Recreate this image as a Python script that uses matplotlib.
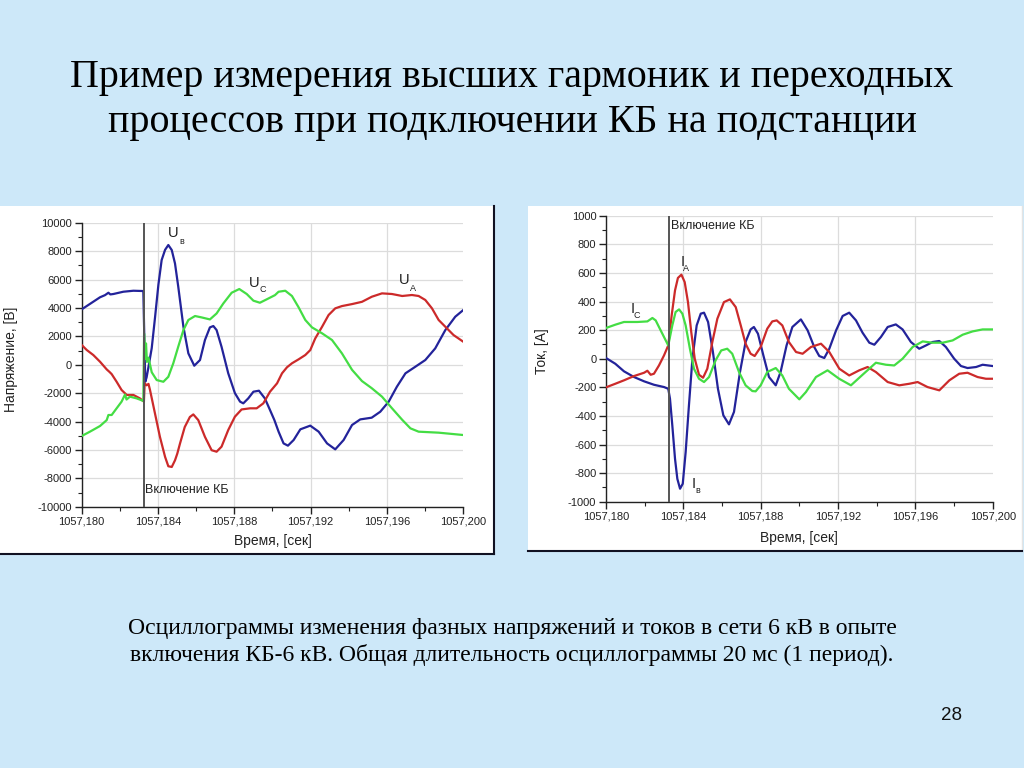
import matplotlib
matplotlib.use("Agg")
import matplotlib.pyplot as plt
from matplotlib.patches import Rectangle
from matplotlib.lines import Line2D
from matplotlib.ticker import MultipleLocator, FuncFormatter
import numpy as np

# ---------------- data (time in ms after 1057,180 s) ----------------
T0 = 1057.180
SWITCH_MS = 3.25

# Voltage, phase B (blue)
ub_t = [0, 0.26, 0.61, 0.96, 1.22, 1.4, 1.5, 1.66, 2.18, 2.71, 3.23, 3.28, 3.33, 3.4, 3.49, 3.67, 3.84,
        4.02, 4.19, 4.37, 4.54, 4.72, 4.89, 5.06, 5.33, 5.59, 5.9, 6.2, 6.46, 6.72, 6.9, 7.07, 7.33,
        7.68, 8.03, 8.3, 8.47, 8.73, 9.0, 9.29, 9.6, 9.87, 10.1, 10.32, 10.58, 10.81, 11.11, 11.46,
        11.98, 12.42, 12.86, 13.29, 13.73, 14.17, 14.6, 15.2, 15.65, 16.09, 16.52, 16.97, 17.49,
        18.01, 18.53, 19.06, 19.58, 20.0]
ub_v = [3900, 4130, 4440, 4750, 4900, 5070, 4950, 4980, 5140, 5210, 5190, 2000, -1200, -900, -230,
        1170, 3290, 5640, 7370, 8090, 8430, 8075, 7130, 5500, 2680, 800, -70, 330, 1740, 2630, 2725,
        2440, 1260, -600, -2000, -2600, -2720, -2370, -1900, -1830, -2370, -3190, -3900, -4715,
        -5540, -5700, -5300, -4550, -4290, -4715, -5540, -5960, -5300, -4245, -3850, -3730, -3310,
        -2605, -1550, -605, -140, 330, 1150, 2440, 3380, 3850]

# Voltage, phase A (red)
ua_t = [0, 0.26, 0.61, 0.96, 1.31, 1.45, 1.57, 1.83, 2.09, 2.36, 2.71, 3.05, 3.26, 3.3, 3.4, 3.5,
        3.58, 3.84, 4.1, 4.37, 4.54, 4.72, 4.89, 5.01, 5.15, 5.4, 5.67, 5.85, 6.11, 6.46, 6.81,
        7.07, 7.33, 7.68, 8.03, 8.38, 8.82, 9.17, 9.52, 9.87, 10.24, 10.5, 10.76, 11.02, 11.37,
        11.72, 11.98, 12.24, 12.6, 12.94, 13.29, 13.64, 14.17, 14.69, 15.21, 15.74, 16.26, 16.8,
        17.31, 17.66, 18.01, 18.36, 18.71, 19.06, 19.49, 20.0]
ua_v = [1390, 1040, 680, 210, -330, -500, -660, -1200, -1780, -2130, -2130, -2370, -2600, -1300,
        -1450, -1350, -1780, -3430, -5080, -6490, -7150, -7200, -6730, -6260, -5560, -4390, -3680,
        -3500, -3900, -5080, -6020, -6125, -5770, -4600, -3660, -3150, -3070, -3070, -2720, -1900,
        -1310, -605, -180, 100, 380, 683, 1030, 1850, 2675, 3500, 3970, 4130, 4270, 4430, 4790,
        5025, 4980, 4840, 4910, 4840, 4560, 3970, 3150, 2675, 2090, 1620]

# Voltage, phase C (green)
uc_t = [0, 0.43, 0.96, 1.31, 1.4, 1.57, 1.83, 2.09, 2.27, 2.35, 2.53, 2.88, 3.23, 3.27, 3.32, 3.37,
        3.42, 3.5, 3.67, 3.93, 4.28, 4.54, 4.8, 5.06, 5.33, 5.59, 5.94, 6.29, 6.72, 7.07, 7.42,
        7.86, 8.26, 8.65, 9.0, 9.34, 9.69, 10.13, 10.32, 10.67, 11.02, 11.37, 11.72, 12.07, 12.6,
        13.12, 13.64, 14.17, 14.69, 15.2, 15.74, 16.26, 16.8, 17.23, 17.66, 18.71, 20.0]
uc_v = [-5020, -4715, -4315, -3900, -3540, -3540, -3070, -2600, -2100, -2450, -2250, -2370, -2550,
        2200, 400, 1500, 200, 500, -530, -1080, -1200, -850, 100, 1270, 2440, 3150, 3430, 3330, 3190,
        3610, 4310, 5070, 5330, 4980, 4510, 4365, 4600, 4900, 5140, 5210, 4840, 4040, 3150, 2630,
        2210, 1740, 800, -360, -1150, -1650, -2250, -3060, -3880, -4480, -4715, -4785, -4950]

# Current, phase A (red)
ia_t = [0, 0.48, 0.93, 1.45, 1.97, 2.14, 2.31, 2.48, 2.74, 3.0, 3.22, 3.4, 3.57, 3.72, 3.9, 4.07,
        4.24, 4.41, 4.59, 4.81, 5.02, 5.24, 5.5, 5.76, 6.1, 6.41, 6.71, 6.97, 7.22, 7.48, 7.69, 8.0,
        8.34, 8.6, 8.83, 9.12, 9.46, 9.83, 10.17, 10.6, 11.12, 11.55, 12.07, 12.58, 13.1, 13.53,
        13.96, 14.57, 15.17, 15.69, 16.12, 16.63, 17.24, 17.76, 18.27, 18.7, 19.22, 19.65, 20.0]
ia_v = [-200, -175, -151, -121, -98, -84, -112, -105, -47, 23, 93, 307, 478, 565, 588, 536, 396,
        186, 0, -112, -133, -70, 117, 280, 396, 415, 361, 233, 105, 35, 19, 82, 210, 261, 268, 233,
        117, 47, 35, 82, 105, 47, -70, -117, -81, -58, -93, -163, -186, -175, -163, -198, -221, -151,
        -105, -98, -128, -140, -140]

# Current, phase B (blue)
ib_t = [0, 0.48, 0.93, 1.45, 1.97, 2.48, 3.0, 3.22, 3.31, 3.43, 3.57, 3.69, 3.83, 3.97, 4.12, 4.29,
        4.47, 4.69, 4.9, 5.07, 5.28, 5.53, 5.79, 6.07, 6.36, 6.62, 6.93, 7.22, 7.48, 7.65, 7.86,
        8.14, 8.43, 8.78, 9.03, 9.34, 9.64, 10.08, 10.43, 10.77, 11.03, 11.29, 11.55, 11.9, 12.24,
        12.58, 12.93, 13.27, 13.62, 13.88, 14.22, 14.57, 14.99, 15.34, 15.77, 16.2, 16.55, 16.89,
        17.24, 17.58, 18.01, 18.36, 18.7, 19.14, 19.48, 20.0]
ib_v = [5, -35, -88, -128, -158, -182, -198, -210, -280, -467, -700, -840, -909, -874, -653, -326,
        0, 233, 315, 322, 257, 47, -210, -396, -459, -372, -93, 117, 205, 222, 175, 23, -128, -186,
        -93, 93, 222, 275, 198, 82, 19, 5, 70, 198, 299, 322, 268, 182, 112, 98, 152, 222, 240, 205,
        117, 70, 93, 117, 124, 82, 0, -51, -65, -58, -42, -51]

# Current, phase C (green)
ic_t = [0, 0.48, 0.93, 1.62, 2.14, 2.4, 2.57, 2.74, 3.0, 3.22, 3.43, 3.6, 3.78, 3.95, 4.12, 4.34,
        4.55, 4.81, 5.07, 5.33, 5.67, 5.96, 6.27, 6.53, 6.88, 7.22, 7.57, 7.74, 8.0, 8.34, 8.78, 9.12,
        9.46, 10.0, 10.34, 10.86, 11.46, 12.06, 12.67, 13.27, 13.96, 14.48, 14.91, 15.34, 15.86,
        16.38, 16.89, 17.41, 17.93, 18.45, 18.96, 19.48, 20.0]
ic_v = [215, 238, 257, 257, 261, 285, 268, 222, 152, 93, 233, 327, 345, 315, 233, 70, -70, -140,
        -163, -128, -11, 58, 70, 35, -93, -186, -226, -228, -186, -93, -65, -117, -210, -284, -233,
        -128, -81, -140, -186, -112, -28, -42, -47, 0, 82, 121, 112, 112, 128, 168, 191, 205, 205]

x_ticks = [1057.180, 1057.184, 1057.188, 1057.192, 1057.196, 1057.200]

BLUE = "#23239a"
RED = "#cc2a2a"
GREEN = "#44dd44"
BG = "#cde8f9"
TXT = "#222222"

plt.rcParams['font.family'] = ['Liberation Sans', 'DejaVu Sans']

fig = plt.figure(figsize=(10.24, 7.68), dpi=100, facecolor=BG)

def frac_x(px):
    return px / 1024.0

def frac_y(py):
    return 1.0 - py / 768.0

# white panels (x0, y0, x1, y1, draw dark right border)
for (x0, y0, x1, y1, rb) in [(0, 206, 494, 554, True), (528, 206, 1022, 551, False)]:
    fig.add_artist(Rectangle((frac_x(x0), frac_y(y1)), frac_x(x1 - x0), (y1 - y0) / 768.0,
                             transform=fig.transFigure, facecolor="white", edgecolor="none", zorder=0))
    if rb:
        fig.add_artist(Line2D([frac_x(x1), frac_x(x1)], [frac_y(y1), frac_y(y0)], transform=fig.transFigure,
                              color="#111122", lw=1.5, zorder=1))
    else:
        fig.add_artist(Line2D([frac_x(x1), frac_x(x1)], [frac_y(y1), frac_y(y0)], transform=fig.transFigure,
                              color="#e4e4e4", lw=1.0, zorder=1))
    fig.add_artist(Line2D([frac_x(x0), frac_x(x1)], [frac_y(y1), frac_y(y1)], transform=fig.transFigure,
                          color="#111122", lw=1.5, zorder=1))

def to_t(ms):
    return T0 + np.asarray(ms) / 1000.0

def style_axes(ax, ymin, ymax, ymaj, ymin_step):
    ax.set_facecolor("white")
    ax.set_xlim(x_ticks[0], x_ticks[-1])
    ax.set_ylim(ymin, ymax)
    ax.set_xticks(x_ticks)
    ax.xaxis.set_minor_locator(MultipleLocator(0.002))
    ax.yaxis.set_major_locator(MultipleLocator(ymaj))
    ax.yaxis.set_minor_locator(MultipleLocator(ymin_step))
    ax.xaxis.set_major_formatter(FuncFormatter(lambda v, p: f"{v:.3f}".replace('.', ',')))
    ax.yaxis.set_major_formatter(FuncFormatter(lambda v, p: f"{v:.0f}"))
    for s in ["top", "right"]:
        ax.spines[s].set_visible(False)
    for s in ["left", "bottom"]:
        ax.spines[s].set_color(TXT)
        ax.spines[s].set_linewidth(1.0)
    ax.tick_params(which="major", direction="out", length=5, width=1, color=TXT,
                   labelsize=8, labelcolor=TXT, pad=2)
    ax.tick_params(which="minor", direction="out", length=3, width=0.8, color=TXT)
    ax.grid(True, which="major", color="#dcdcdc", lw=0.9)
    ax.set_axisbelow(True)
    ax.xaxis.get_gridlines()[-1].set_visible(False)
    ax.yaxis.get_gridlines()[-1].set_visible(False)

def set_labels(ax, xl, yl, ylx, yly, xly):
    ax.set_ylabel(yl, fontsize=10, color=TXT)
    ax.set_xlabel(xl, fontsize=10, color=TXT)
    ax.yaxis.set_label_coords(ylx, yly)
    ax.yaxis.label.set_va("center")
    ax.xaxis.set_label_coords(0.5, xly)
    ax.xaxis.label.set_va("center")

LW = 1.6

# ---------------- left: voltages ----------------
axL = fig.add_axes([0.0798, 0.3402, 0.3726, 0.3698])
style_axes(axL, -10000, 10000, 2000, 1000)
axL.plot(to_t(ub_t), ub_v, color=BLUE, lw=LW, zorder=3)
axL.plot(to_t(ua_t), ua_v, color=RED, lw=LW, zorder=3)
axL.plot(to_t(uc_t), uc_v, color=GREEN, lw=LW, zorder=3)
axL.axvline(to_t(SWITCH_MS), color="#555555", lw=1.4, zorder=4)
set_labels(axL, "Время, [сек]", "Напряжение, [В]", -0.185, 0.52, -0.121)
axL.text(to_t(3.32), -8820, "Включение КБ", fontsize=9, va="center", ha="left", color=TXT)
for (tu, vu, ts, vs, sub) in [(4.79, 9270, 5.26, 8710, "в"), (9.06, 5750, 9.48, 5290, "C"),
                              (16.92, 5960, 17.34, 5400, "A")]:
    axL.text(to_t(tu), vu, "U", fontsize=10.5, ha="center", va="center", color=TXT)
    axL.text(to_t(ts), vs, sub, fontsize=6.5, ha="center", va="center", color=TXT)

# ---------------- right: currents ----------------
axR = fig.add_axes([0.5918, 0.3467, 0.3776, 0.3724])
style_axes(axR, -1000, 1000, 200, 100)
axR.plot(to_t(ib_t), ib_v, color=BLUE, lw=LW, zorder=3)
axR.plot(to_t(ia_t), ia_v, color=RED, lw=LW, zorder=3)
axR.plot(to_t(ic_t), ic_v, color=GREEN, lw=LW, zorder=3)
axR.axvline(to_t(SWITCH_MS), color="#555555", lw=1.4, zorder=4)
set_labels(axR, "Время, [сек]", "Ток, [А]", -0.1655, 0.527, -0.127)
axR.text(to_t(3.35), 928, "Включение КБ", fontsize=9, va="center", ha="left", color=TXT)
for (tu, vu, ts, vs, sub) in [(3.97, 676, 4.16, 634, "A"), (1.38, 348, 1.58, 305, "C"),
                              (4.55, -874, 4.77, -920, "в")]:
    axR.text(to_t(tu), vu, "I", fontsize=10.5, ha="center", va="center", color=TXT)
    axR.text(to_t(ts), vs, sub, fontsize=6.5, ha="center", va="center", color=TXT)

# ---------------- slide texts ----------------
fig.text(0.5, frac_y(100), "Пример измерения высших гармоник и переходных\nпроцессов при подключении КБ на подстанции",
         ha="center", va="center", fontsize=28.8, family=["Liberation Serif", "DejaVu Serif"],
         linespacing=1.3, color="black")
fig.text(0.5, frac_y(642), "Осциллограммы изменения фазных напряжений и токов в сети 6 кВ в опыте\n"
         "включения КБ-6 кВ. Общая длительность осциллограммы 20 мс (1 период).",
         ha="center", va="center", fontsize=17, family=["Liberation Serif", "DejaVu Serif"],
         linespacing=1.3, color="black")
fig.text(frac_x(951), frac_y(715), "28", ha="center", va="center", fontsize=13.5, color="#111111")

fig.savefig("out.png", dpi=100, facecolor=BG)
